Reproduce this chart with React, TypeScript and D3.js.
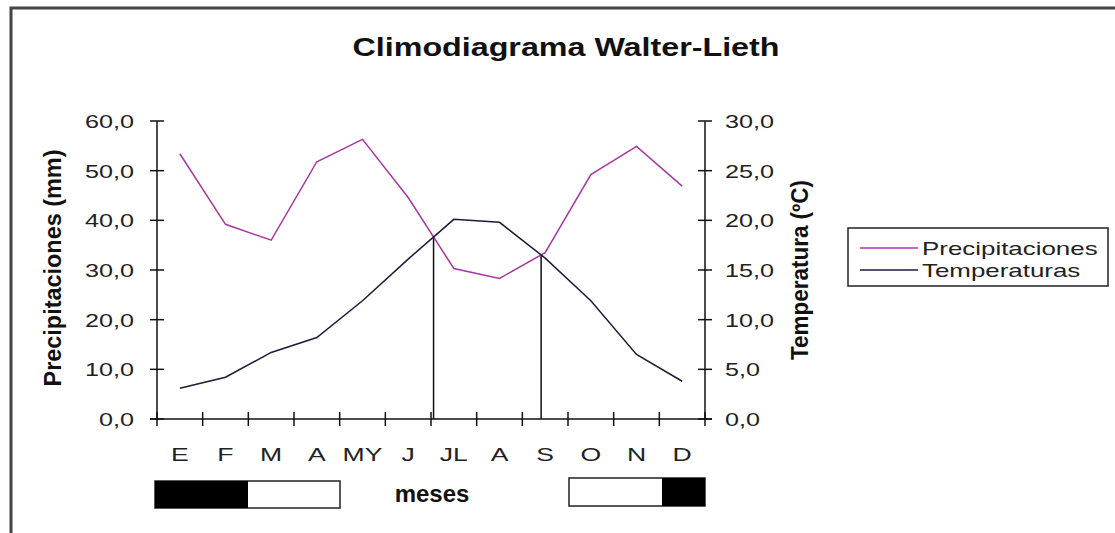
import React from 'react';
import * as d3 from 'd3';

// climate data
const months = ['E', 'F', 'M', 'A', 'MY', 'J', 'JL', 'A', 'S', 'O', 'N', 'D'];
const precip = [53.4, 39.2, 36.0, 51.8, 56.3, 44.6, 30.3, 28.3, 33.5, 49.2, 54.9, 46.9];
const temp = [3.1, 4.2, 6.7, 8.2, 11.9, 16.1, 20.1, 19.8, 16.2, 11.9, 6.5, 3.8];
const precipTicks = [0, 10, 20, 30, 40, 50, 60];
const tempTicks = [0, 5, 10, 15, 20, 25, 30];
const seriesNames = ['Precipitaciones', 'Temperaturas'];

const W = 1115;
const H = 533;
const plot = { left: 157, right: 705, top: 121, bottom: 419 };
const FONT = '"Liberation Sans", Arial, sans-serif';
const SX = 1.4; // the original text is drawn wide
const PCOL = '#a8389f';
const TCOL = '#1c1c3a';

const fmt = (v: number) => d3.format('.1f')(v).replace('.', ',');

interface TxtProps {
    x: number;
    y: number;
    size: number;
    anchor?: 'start' | 'middle' | 'end';
    bold?: boolean;
    sx?: number;
    fill?: string;
    children: React.ReactNode;
}

const Txt: React.FC<TxtProps> = ({ x, y, size, anchor = 'start', bold = false, sx = SX, fill = '#222', children }) => (
    <text
        transform={`translate(${x},${y}) scale(${sx},1)`}
        fontFamily={FONT}
        fontSize={size}
        fontWeight={bold ? 'bold' : 'normal'}
        textAnchor={anchor}
        fill={fill}
    >
        {children}
    </text>
);

const App: React.FC = () => {
    const idx = months.map((_, i) => i);
    const x = d3.scaleBand<number>().domain(idx).range([plot.left, plot.right]);
    const cx = (i: number) => (x(i) as number) + x.bandwidth() / 2;
    const yP = d3.scaleLinear().domain([0, 60]).range([plot.bottom, plot.top]);
    const yT = d3.scaleLinear().domain([0, 30]).range([plot.bottom, plot.top]);

    const pLine = d3.line<number>().x((_, i) => cx(i)).y(d => yP(d))(precip) as string;
    const tLine = d3.line<number>().x((_, i) => cx(i)).y(d => yT(d))(temp) as string;

    // where the two curves cross -> vertical marks
    const crossings: { x: number; y: number }[] = [];
    for (let i = 0; i < months.length - 1; i++) {
        const d0 = yP(precip[i]) - yT(temp[i]);
        const d1 = yP(precip[i + 1]) - yT(temp[i + 1]);
        if (d0 * d1 < 0) {
            const f = d0 / (d0 - d1);
            const px = cx(i) + f * (cx(i + 1) - cx(i));
            const py = yP(precip[i]) + f * (yP(precip[i + 1]) - yP(precip[i]));
            crossings.push({ x: px, y: py });
        }
    }

    const xTicks = [...idx.map(i => x(i) as number), plot.right];

    return (
        <svg width={W} height={H} style={{ position: 'absolute', left: 0, top: 0, background: '#fff' }}>
            <rect x={11} y={8} width={W + 20} height={H + 20} fill="#fff" stroke="#444" strokeWidth={3} />

            <Txt x={566} y={56} size={25} bold anchor="middle" sx={1.29} fill="#111">Climodiagrama Walter-Lieth</Txt>

            {/* axes */}
            <g stroke="#111" strokeWidth={1.5}>
                <line x1={plot.left} x2={plot.left} y1={plot.top} y2={plot.bottom} />
                <line x1={plot.right} x2={plot.right} y1={plot.top} y2={plot.bottom} />
                <line x1={plot.left - 7} x2={plot.right + 7} y1={plot.bottom} y2={plot.bottom} />
                {precipTicks.map(t => (
                    <line key={'pl' + t} x1={plot.left - 7} x2={plot.left + 7} y1={yP(t)} y2={yP(t)} />
                ))}
                {tempTicks.map(t => (
                    <line key={'tr' + t} x1={plot.right - 7} x2={plot.right + 7} y1={yT(t)} y2={yT(t)} />
                ))}
                {xTicks.map((t, i) => (
                    <line key={'xt' + i} x1={t} x2={t} y1={plot.bottom - 7} y2={plot.bottom + 7} />
                ))}
            </g>

            {precipTicks.map(t => (
                <Txt key={'plt' + t} x={134} y={yP(t) + 7} size={18} anchor="end">{fmt(t)}</Txt>
            ))}
            {tempTicks.map(t => (
                <Txt key={'trt' + t} x={725} y={yT(t) + 7} size={18}>{fmt(t)}</Txt>
            ))}
            {months.map((m, i) => (
                <Txt key={'m' + i} x={cx(i)} y={461} size={19} anchor="middle">{m}</Txt>
            ))}

            <text transform="translate(61,268) rotate(-90)" fontFamily={FONT} fontSize={23} fontWeight="bold"
                textAnchor="middle" fill="#111" textLength={237} lengthAdjust="spacingAndGlyphs">
                Precipitaciones (mm)
            </text>
            <text transform="translate(808,270) rotate(-90)" fontFamily={FONT} fontSize={23} fontWeight="bold"
                textAnchor="middle" fill="#111" textLength={180} lengthAdjust="spacingAndGlyphs">
                Temperatura (ºC)
            </text>

            {/* vertical marks at the crossings */}
            {crossings.map((c, i) => (
                <line key={'c' + i} x1={c.x} x2={c.x} y1={c.y} y2={plot.bottom} stroke="#111" strokeWidth={1.5} />
            ))}

            <path d={pLine} fill="none" stroke={PCOL} strokeWidth={1.5} />
            <path d={tLine} fill="none" stroke={TCOL} strokeWidth={1.5} />

            {/* legend */}
            <rect x={848} y={228} width={260} height={58} fill="#fff" stroke="#222" strokeWidth={1.5} />
            <line x1={860} x2={918} y1={248} y2={248} stroke={PCOL} strokeWidth={1.5} />
            <line x1={860} x2={918} y1={270} y2={270} stroke={TCOL} strokeWidth={1.5} />
            <Txt x={922} y={255} size={18.5}>{seriesNames[0]}</Txt>
            <Txt x={922} y={277} size={18.5}>{seriesNames[1]}</Txt>

            {/* dry/humid period bars */}
            <rect x={155} y={481} width={185} height={27} fill="#fff" stroke="#222" strokeWidth={1.5} />
            <rect x={155} y={481} width={93} height={27} fill="#000" />
            <rect x={569} y={478} width={136} height={28} fill="#fff" stroke="#222" strokeWidth={1.5} />
            <rect x={662} y={478} width={43} height={28} fill="#000" />

            <Txt x={432} y={502} size={24} bold anchor="middle" sx={1} fill="#111">meses</Txt>
        </svg>
    );
};

export default App;
